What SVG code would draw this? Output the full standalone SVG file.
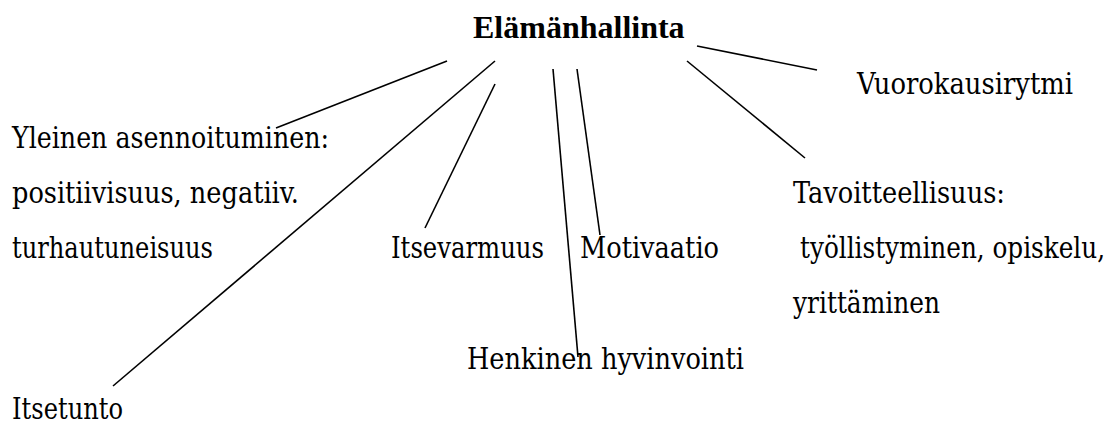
<svg xmlns="http://www.w3.org/2000/svg" width="1117" height="425" viewBox="0 0 1117 425">
  <style>
    text { font-family: "DejaVu Serif Condensed", "DejaVu Serif", serif; font-size: 29px; fill: #000; }
    .title { font-family: "Liberation Serif", serif; font-size: 32px; font-weight: bold; }
    .conn line { stroke: #000; stroke-width: 1.6; stroke-linecap: butt; }
  </style>
  <rect width="1117" height="425" fill="#fff"/>

  <!-- connectors radiating from the central concept -->
  <g id="connectors" class="conn">
    <line x1="447" y1="61" x2="276" y2="128"/>
    <line x1="495" y1="61" x2="113" y2="386"/>
    <line x1="495" y1="84" x2="425" y2="228"/>
    <line x1="553" y1="69" x2="578" y2="357"/>
    <line x1="577" y1="69" x2="600" y2="235"/>
    <line x1="687" y1="61" x2="805" y2="158"/>
    <line x1="697" y1="46" x2="817" y2="70"/>
  </g>

  <g id="elamanhallinta">
    <text class="title" x="473" y="38">Elämänhallinta</text>
  </g>

  <g id="vuorokausirytmi">
    <text x="857" y="94" textLength="216" lengthAdjust="spacingAndGlyphs">Vuorokausirytmi</text>
  </g>

  <g id="yleinen-asennoituminen">
    <text x="12" y="148" textLength="317" lengthAdjust="spacingAndGlyphs">Yleinen asennoituminen:</text>
    <text x="12" y="203" textLength="287" lengthAdjust="spacingAndGlyphs">positiivisuus, negatiiv.</text>
    <text x="12" y="258" textLength="201" lengthAdjust="spacingAndGlyphs">turhautuneisuus</text>
  </g>

  <g id="itsevarmuus">
    <text x="391" y="258" textLength="153" lengthAdjust="spacingAndGlyphs">Itsevarmuus</text>
  </g>

  <g id="motivaatio">
    <text x="580" y="258" textLength="139" lengthAdjust="spacingAndGlyphs">Motivaatio</text>
  </g>

  <g id="tavoitteellisuus">
    <text x="793" y="203" textLength="212" lengthAdjust="spacingAndGlyphs">Tavoitteellisuus:</text>
    <text x="800" y="258" textLength="305" lengthAdjust="spacingAndGlyphs">työllistyminen, opiskelu,</text>
    <text x="793" y="313" textLength="147" lengthAdjust="spacingAndGlyphs">yrittäminen</text>
  </g>

  <g id="henkinen-hyvinvointi">
    <text x="467" y="369" textLength="277" lengthAdjust="spacingAndGlyphs">Henkinen hyvinvointi</text>
  </g>

  <g id="itsetunto">
    <text x="12" y="419" textLength="111" lengthAdjust="spacingAndGlyphs">Itsetunto</text>
  </g>
</svg>
